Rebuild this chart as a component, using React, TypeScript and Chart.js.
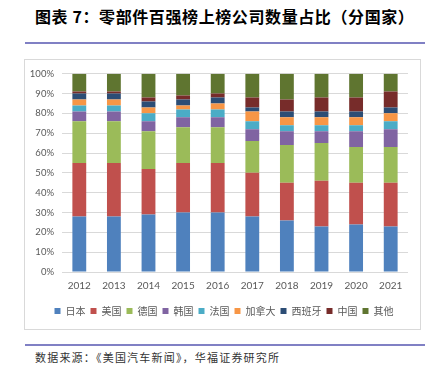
import React, { useEffect, useRef } from "react";
import { Chart, registerables } from "chart.js";

Chart.register(...registerables);

const years = ["2012", "2013", "2014", "2015", "2016", "2017", "2018", "2019", "2020", "2021"];
const japan = [28, 28, 29, 30, 30, 28, 26, 23, 24, 23];
const usa = [27, 27, 23, 25, 25, 22, 19, 23, 21, 22];
const germany = [21, 21, 19, 18, 18, 16, 19, 19, 18, 18];
const korea = [5, 5, 5, 5, 5, 6, 7, 6, 8, 9];
const france = [3, 3, 4, 4, 4, 4, 3, 3, 3, 4];
const canada = [3, 3, 3, 2, 3, 5, 4, 4, 4, 4];
const spain = [3, 3, 3, 3, 3, 2, 3, 3, 3, 3];
const china = [1, 1, 2, 2, 2, 5, 6, 7, 7, 8];
const others = [9, 9, 12, 11, 10, 12, 13, 12, 12, 9];

const seriesNames = ["日本", "美国", "德国", "韩国", "法国", "加拿大", "西班牙", "中国", "其他"];
const seriesColors = ["#4F81BD", "#C0504D", "#9BBB59", "#8064A2", "#4BACC6", "#F79646", "#2C4D75", "#772C2A", "#5F7530"];
const seriesData = [japan, usa, germany, korea, france, canada, spain, china, others];

export default function App() {
  const ref = useRef<HTMLCanvasElement | null>(null);

  useEffect(() => {
    if (!ref.current) return;
    const chart = new Chart(ref.current, {
      type: "bar",
      data: {
        labels: years,
        datasets: seriesData.map((d, i) => ({
          label: seriesNames[i],
          data: d,
          backgroundColor: seriesColors[i],
          borderWidth: 0,
          barPercentage: 0.4,
          categoryPercentage: 1,
        })),
      },
      options: {
        responsive: false,
        animation: false,
        layout: { padding: { left: 0, right: 0, top: 13, bottom: 2 } },
        plugins: {
          tooltip: { enabled: false },
          legend: {
            position: "bottom",
            labels: {
              boxWidth: 6,
              boxHeight: 6,
              padding: 5,
              color: "#595959",
              font: { family: "'Noto Sans CJK SC'", size: 10 },
            },
          },
        },
        scales: {
          x: {
            stacked: true,
            grid: { display: false, drawTicks: false },
            border: { display: false },
            ticks: { color: "#595959", padding: 8, font: { family: "Lato", size: 10 } },
            afterFit: (s: any) => { s.height = 29; },
          },
          y: {
            stacked: true,
            min: 0,
            max: 100,
            grid: { color: "#D9D9D9", lineWidth: 1, drawTicks: false },
            border: { display: false },
            ticks: {
              stepSize: 10,
              padding: 8,
              color: "#595959",
              font: { family: "Lato", size: 9.5 },
              callback: (v: any) => v + "%",
            },
            afterFit: (s: any) => { s.width = 49; },
          },
          yRight: {
            position: "right",
            display: true,
            grid: { display: false, drawTicks: false },
            border: { display: false },
            ticks: { display: false },
            afterFit: (s: any) => { s.width = 27; },
          },
        },
      },
    });
    return () => chart.destroy();
  }, []);

  return (
    <div style={{ position: "absolute", left: 0, top: 0, width: 444, height: 370, background: "#fff", overflow: "hidden" }}>
      <div
        style={{
          position: "absolute", left: 35, top: 5, fontFamily: "'Noto Sans CJK SC'", fontWeight: 700,
          fontSize: 16, letterSpacing: 0.6, color: "#000", whiteSpace: "nowrap", lineHeight: "22px",
        }}
      >
        图表 7：零部件百强榜上榜公司数量占比（分国家）
      </div>
      <div style={{ position: "absolute", left: 25, top: 42, width: 400, height: 2, background: "#8080C4" }} />
      <div
        style={{
          position: "absolute", left: 24, top: 59, width: 397, height: 271, boxSizing: "border-box",
          border: "1px solid #D9D9D9",
        }}
      />
      <canvas ref={ref} width={422} height={268} style={{ position: "absolute", left: 13, top: 60, width: 422, height: 268 }} />
      <div style={{ position: "absolute", left: 25, top: 344, width: 400, height: 2, background: "#8080C4" }} />
      <div
        style={{
          position: "absolute", left: 35, top: 349, fontFamily: "'Noto Sans CJK SC'", fontSize: 11,
          letterSpacing: 1.2, color: "#333", whiteSpace: "nowrap", lineHeight: "16px",
        }}
      >
        数据来源：《美国汽车新闻》，华福证券研究所
      </div>
    </div>
  );
}
